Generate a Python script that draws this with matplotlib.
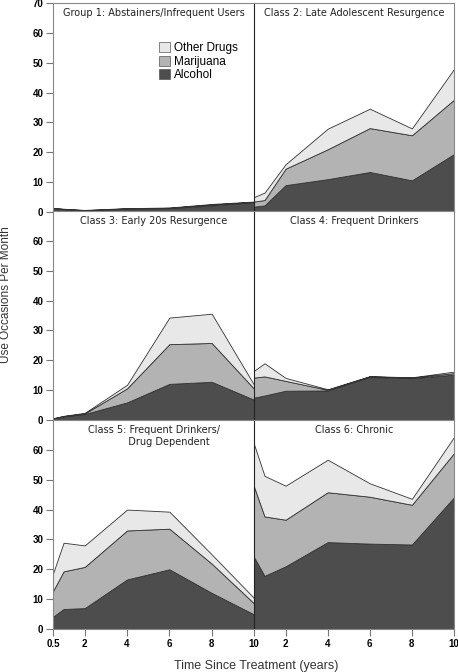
import matplotlib
matplotlib.use('Agg')
import matplotlib.pyplot as plt
from matplotlib.patches import Patch

# time points (years since treatment)
years = [0.5, 1, 2, 4, 6, 8, 10]

titles = ['Group 1: Abstainers/Infrequent Users',
          'Class 2: Late Adolescent Resurgence',
          'Class 3: Early 20s Resurgence',
          'Class 4: Frequent Drinkers',
          'Class 5: Frequent Drinkers/\n          Drug Dependent',
          'Class 6: Chronic']

# use occasions per month, one layer per substance (stacked)
alcohol = [
    [1.2, 0.9, 0.5, 1.1, 1.3, 2.2, 3.3],
    [1.8, 2.2, 9.0, 11.0, 13.4, 10.6, 19.4],
    [0.5, 1.2, 2.0, 5.9, 12.1, 12.8, 6.8],
    [7.5, 8.2, 9.8, 9.9, 14.4, 14.0, 15.2],
    [4.1, 6.7, 7.0, 16.6, 20.0, 12.1, 4.9],
    [24.1, 17.8, 21.0, 29.1, 28.6, 28.3, 44.1],
]
marijuana = [
    [0.1, 0.1, 0.1, 0.1, 0.1, 0.3, 0.1],
    [1.7, 1.8, 5.5, 10.0, 14.7, 15.1, 18.2],
    [0.0, 0.1, 0.2, 4.7, 13.3, 13.0, 3.7],
    [6.7, 6.4, 3.3, 0.2, 0.2, 0.2, 0.5],
    [8.6, 12.6, 13.8, 16.4, 13.6, 9.8, 3.7],
    [23.6, 19.9, 15.6, 16.7, 15.7, 13.3, 14.8],
]
other = [
    [0.1, 0.1, 0.1, 0.1, 0.1, 0.2, 0.1],
    [1.5, 2.5, 1.5, 6.9, 6.5, 2.3, 10.3],
    [0.1, 0.1, 0.2, 1.2, 8.9, 9.8, 1.3],
    [2.3, 4.4, 1.0, 0.2, 0.1, 0.1, 0.5],
    [5.9, 9.6, 7.2, 7.0, 5.7, 3.1, 1.8],
    [14.2, 13.6, 11.4, 10.9, 4.5, 2.0, 5.4],
]

layer_names = ['Alcohol', 'Marijuana', 'Other Drugs']
colors = ['#4d4d4d', '#b3b3b3', '#e8e8e8']

plt.rcParams['font.family'] = ['Liberation Sans', 'DejaVu Sans']

fig = plt.figure(figsize=(4.58, 6.72), dpi=100)
W, H = 458.0, 672.0
col_x = [53, 254]
col_w = [201, 200]
row_top = [3, 211, 420]
row_h = 209

axes = []
for i in range(6):
    r, c = i // 2, i % 2
    ax = fig.add_axes([col_x[c] / W, 1 - (row_top[r] + row_h) / H,
                       col_w[c] / W, row_h / H])
    ax.stackplot(years, alcohol[i], marijuana[i], other[i], colors=colors,
                 edgecolor='#333333', linewidth=0.6)
    ax.set_xlim(0.5, 10)
    ax.set_ylim(0, 70)
    for s in ax.spines.values():
        s.set_color('#888888')
        s.set_linewidth(0.8)
    if c == 0:
        ax.spines['right'].set_visible(False)
        ax.set_yticks([0, 10, 20, 30, 40, 50, 60, 70] if r == 0 else [0, 10, 20, 30, 40, 50, 60])
    else:
        ax.spines['left'].set_color('#222222')
        ax.set_yticks([])
    if r == 2:
        ax.set_xticks([0.5, 2, 4, 6, 8, 10] if c == 0 else [2, 4, 6, 8, 10])
        ax.set_xticklabels(['0.5', '2', '4', '6', '8', '10'] if c == 0 else ['2', '4', '6', '8', '10'])
    else:
        ax.set_xticks([])
    ax.spines['bottom'].set_visible(r == 2)
    ax.tick_params(length=5, width=0.8, color='#777777', labelsize=7, pad=2)
    for lab in ax.get_xticklabels() + ax.get_yticklabels():
        lab.set_fontweight('bold')
    # panel title
    ax.text(0.5, 0.975, titles[i], transform=ax.transAxes, ha='center', va='top',
            fontsize=7, family='DejaVu Sans', color='#222222', linespacing=1.2)
    axes.append(ax)

handles = [Patch(facecolor=colors[k], edgecolor='#555555', linewidth=0.5) for k in [2, 1, 0]]
axes[0].legend(handles, [layer_names[k] for k in [2, 1, 0]], loc='upper left',
               bbox_to_anchor=(0.5, 0.84), frameon=False, fontsize=8.5,
               handlelength=0.9, handleheight=0.9, handletextpad=0.3,
               labelspacing=0.12, borderpad=0)

fig.text(6 / W, 1 - 295 / H, 'Use Occasions Per Month', rotation=90,
         ha='center', va='center', fontsize=8.5, color='#333333')
fig.text(256 / W, 1 - 666 / H, 'Time Since Treatment (years)',
         ha='center', va='center', fontsize=9, color='#333333',
         family=['Liberation Sans Narrow', 'Liberation Sans', 'DejaVu Sans'])

fig.savefig('out.png', dpi=100)
